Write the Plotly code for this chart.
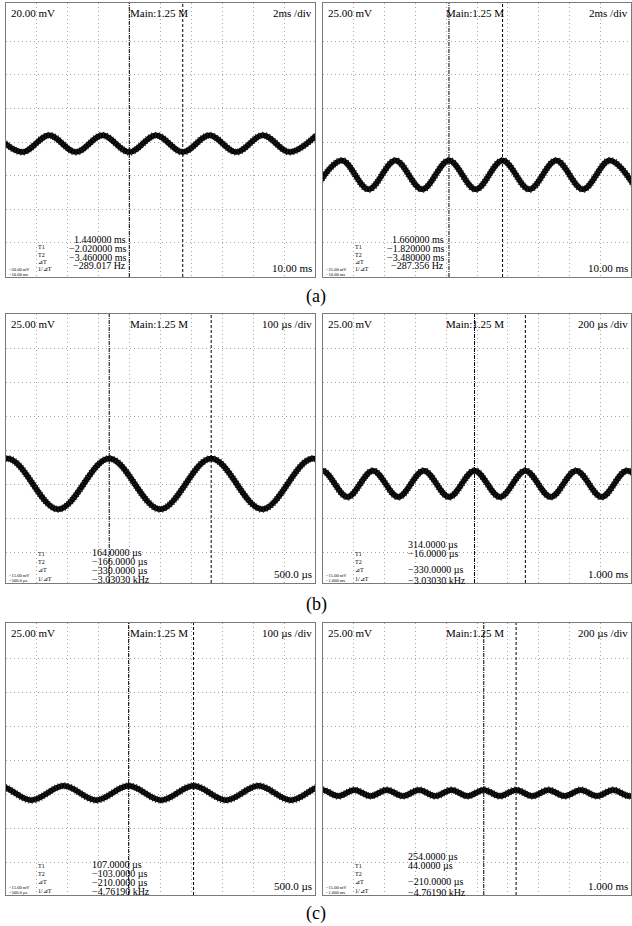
import plotly.graph_objects as go

W, H = 632, 926

# ---------------- data ----------------
# (a) left: 2 ms/div, 20 mV/div ; extrema times (ms) and levels (div)
a1_t = [-10.67, -8.94, -7.21, -5.48, -3.75, -2.02, -0.29, 1.44, 3.17, 4.90, 6.63, 8.36, 10.09]
a1_v = [0.20, -0.30, 0.20, -0.30, 0.20, -0.30, 0.20, -0.30, 0.20, -0.30, 0.20, -0.30, 0.20]
a1_cursors = [1.44, -2.02]
# (a) right: 2 ms/div, 25 mV/div
a2_t = [-10.52, -8.78, -7.04, -5.30, -3.56, -1.82, -0.08, 1.66, 3.40, 5.14, 6.88, 8.62, 10.36]
a2_v = [-1.41, -0.55, -1.41, -0.55, -1.41, -0.55, -1.41, -0.55, -1.41, -0.55, -1.41, -0.55, -1.41]
a2_cursors = [1.66, -1.82]
# (b) left: 100 us/div
b1_t = [-661, -496, -331, -166, -1, 164, 329, 494, 659]
b1_v = [-1.74, -0.25, -1.74, -0.25, -1.74, -0.25, -1.74, -0.25, -1.74]
b1_cursors = [164, -166]
# (b) right: 200 us/div
b2_t = [-1171, -1006, -841, -676, -511, -346, -181, -16, 149, 314, 479, 644, 809, 974, 1139]
b2_v = [-1.38, -0.61, -1.38, -0.61, -1.38, -0.61, -1.38, -0.61, -1.38, -0.61, -1.38, -0.61, -1.38, -0.61, -1.38]
b2_cursors = [314, -16]
# (c) left: 100 us/div
c1_t = [-628, -523, -418, -313, -208, -103, 2, 107, 212, 317, 422, 527, 632]
c1_v = [-1.18, -0.76, -1.18, -0.76, -1.18, -0.76, -1.18, -0.76, -1.18, -0.76, -1.18, -0.76, -1.18]
c1_cursors = [107, -103]
# (c) right: 200 us/div
c2_t = [-1111, -1006, -901, -796, -691, -586, -481, -376, -271, -166, -61, 44, 149, 254, 359,
        464, 569, 674, 779, 884, 989, 1094]
c2_v = [-1.06, -0.88, -1.06, -0.88, -1.06, -0.88, -1.06, -0.88, -1.06, -0.88, -1.06, -0.88,
        -1.06, -0.88, -1.06, -0.88, -1.06, -0.88, -1.06, -0.88, -1.06, -0.88]
c2_cursors = [254, 44]

# text content
volts_labels = ["20.00 mV", "25.00 mV", "25.00 mV", "25.00 mV", "25.00 mV", "25.00 mV"]
div_labels = ["2ms /div", "2ms /div", "100 µs /div", "200 µs /div", "100 µs /div", "200 µs /div"]
span_labels = ["10.00 ms", "10.00 ms", "500.0 µs", "1.000 ms", "500.0 µs", "1.000 ms"]
ref_labels = [("−20.00 mV", "−10.00 ms"), ("−25.00 mV", "−10.00 ms"), ("−15.00 mV", "−500.0 µs"),
              ("−15.00 mV", "−1.000 ms"), ("−15.00 mV", "−500.0 µs"), ("−15.00 mV", "−1.000 ms")]
readouts = [
    ["1.440000 ms", "−2.020000 ms", "−3.460000 ms", "−289.017 Hz"],
    ["1.660000 ms", "−1.820000 ms", "−3.480000 ms", "−287.356 Hz"],
    ["164.0000 µs", "−166.0000 µs", "−330.0000 µs", "−3.03030 kHz"],
    ["314.0000 µs", "−16.0000 µs", "−330.0000 µs", "−3.03030 kHz"],
    ["107.0000 µs", "−103.0000 µs", "−210.0000 µs", "−4.76190 kHz"],
    ["254.0000 µs", "44.0000 µs", "−210.0000 µs", "−4.76190 kHz"],
]
readout_names = ["T1", "T2", "⊿T", "1/⊿T"]
main_label = "Main:1.25 M"
fig_labels = ["(a)", "(b)", "(c)"]

# ---------------- layout geometry (pixels) ----------------
series = [(a1_t, a1_v, a1_cursors), (a2_t, a2_v, a2_cursors), (b1_t, b1_v, b1_cursors),
          (b2_t, b2_v, b2_cursors), (c1_t, c1_v, c1_cursors), (c2_t, c2_v, c2_cursors)]
tdiv = [2, 2, 100, 200, 100, 200]
rows_px = [(3, 277, [-4.02, 4.14]), (314, 583, [-3.91, 4.0]), (623, 895, [-3.97, 4.03])]
cols_px = [(6, 315), (323, 631)]

SERIF = "Liberation Serif, Times New Roman, serif"
fig = go.Figure()
annotations = []
shapes = []


def px(x):
    return x / W


def py(y):
    return 1 - y / H


def add_text(text, x, y, size, anchor="left"):
    annotations.append(dict(text=text, x=px(x), y=py(y), xref="paper", yref="paper",
                            xanchor=anchor, yanchor="middle", showarrow=False,
                            font=dict(family=SERIF, size=size, color="black")))


for i, (t, v, cur) in enumerate(series):
    r, c = divmod(i, 2)
    top, bot, yr = rows_px[r]
    left, right = cols_px[c]
    k = i + 1
    xa = "xaxis" if k == 1 else f"xaxis{k}"
    ya = "yaxis" if k == 1 else f"yaxis{k}"
    xr = "x" if k == 1 else f"x{k}"
    yrn = "y" if k == 1 else f"y{k}"
    d = tdiv[i]
    fig.add_trace(go.Scatter(x=t, y=v, mode="lines", xaxis=xr, yaxis=yrn,
                             line=dict(color="black", width=5.5, shape="spline", smoothing=1.0),
                             showlegend=False, hoverinfo="skip"))
    fig.add_trace(go.Scatter(x=t, y=v, mode="lines", xaxis=xr, yaxis=yrn,
                             line=dict(color="#222", width=7, shape="spline", smoothing=1.0, dash="1px,2px"),
                             showlegend=False, hoverinfo="skip"))
    fig.layout[xa] = dict(domain=[px(left), px(right)], range=[-5 * d, 5 * d],
                          anchor=yrn, showticklabels=False, ticks="", zeroline=False,
                          showgrid=True, gridcolor="#a8a8a8", griddash="1px,3px", gridwidth=1,
                          tickvals=[j * d for j in range(-4, 5)],
                          showline=True, mirror=True, linecolor="#7a7a7a", linewidth=1)
    fig.layout[ya] = dict(domain=[py(bot), py(top)], range=yr, anchor=xr,
                          showticklabels=False, ticks="", zeroline=False,
                          showgrid=True, gridcolor="#a8a8a8", griddash="1px,3px", gridwidth=1,
                          tickvals=[-3, -2, -1, 0, 1, 2, 3],
                          showline=True, mirror=True, linecolor="#7a7a7a", linewidth=1)
    # cursors
    for j, ct in enumerate(cur):
        shapes.append(dict(type="line", xref=xr, yref=f"{yrn} domain", x0=ct, x1=ct, y0=0, y1=1,
                           line=dict(color="black", width=1,
                                     dash="3px,2px" if j == 0 else "4px,1px,1px,1px")))
    # texts
    add_text(volts_labels[i], left + 3, top + 10, 11)
    add_text(div_labels[i], right - 1, top + 10, 11, "right")
    add_text(main_label, (left + right) / 2 - 2, top + 10, 11, "center")
    add_text(span_labels[i], right - 1, bot - 9, 11, "right")
    add_text(ref_labels[i][0], left + 1, bot - 8, 4.5)
    add_text(ref_labels[i][1], left + 1, bot - 3, 4.5)
    # readouts
    if i < 2:
        val_x = [128, 446][c]
        val_y = [bot - 37, bot - 28.5, bot - 20, bot - 11.5]
        lab_y = [bot - 30, bot - 22, bot - 15, bot - 8]
        for j in range(4):
            add_text(readouts[i][j], val_x, val_y[j], 10, "right")
    else:
        val_x = [90, 406][c]
        if c == 0:
            val_y = [bot - 31, bot - 22, bot - 13, bot - 4]
        else:
            val_y = [bot - 39, bot - 30, bot - 14, bot - 3]
        lab_y = [bot - 29, bot - 21, bot - 13, bot - 4]
        for j in range(4):
            add_text(readouts[i][j], val_x, val_y[j], 10)
    lab_x = left + 30
    for j in range(4):
        add_text(readout_names[j], lab_x, lab_y[j], 6)

for r, lab in enumerate(fig_labels):
    add_text(lab, 316, [296, 604, 913][r], 18, "center")

fig.update_layout(width=W, height=H, margin=dict(l=0, r=0, t=0, b=0),
                  paper_bgcolor="white", plot_bgcolor="white",
                  annotations=annotations, shapes=shapes, showlegend=False)
fig.write_html("out.html", config={"displayModeBar": False},
               post_script="document.body.style.margin='0';document.body.style.overflow='hidden';")
